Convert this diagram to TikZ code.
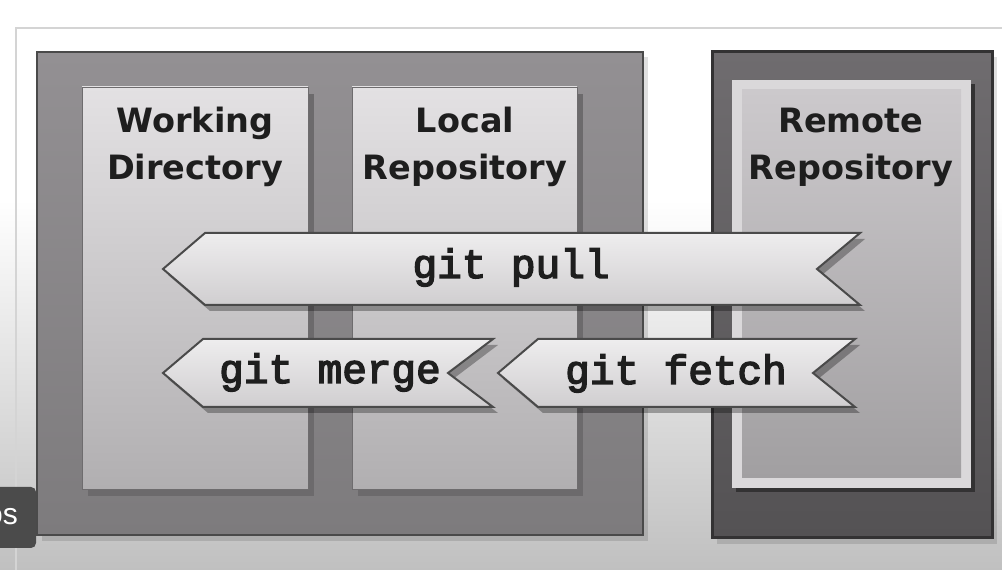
\documentclass[tikz,border=0pt]{standalone}
\usepackage{fontspec}
\newfontfamily\headfont{DejaVu Sans}
\newfontfamily\codefont{Liberation Mono}[FakeBold=3.5]
\newfontfamily\uifont{Liberation Sans}
\definecolor{bgbot}{HTML}{C0C0C0}
\definecolor{panelline}{HTML}{D4D4D4}
\definecolor{lgtop}{HTML}{939093}
\definecolor{lgbot}{HTML}{7D7B7D}
\definecolor{bordark}{HTML}{4A4A4A}
\definecolor{intop}{HTML}{E3E1E3}
\definecolor{inbot}{HTML}{B1AFB1}
\definecolor{inline}{HTML}{6E6C6E}
\definecolor{innershadow}{HTML}{6C6A6C}
\definecolor{rtop}{HTML}{6F6C6F}
\definecolor{rbot}{HTML}{545254}
\definecolor{rborder}{HTML}{333233}
\definecolor{rband}{HTML}{DAD8DA}
\definecolor{ritop}{HTML}{CCC9CC}
\definecolor{ribot}{HTML}{A19FA1}
\definecolor{artop}{HTML}{EEEDEE}
\definecolor{arbot}{HTML}{D0CED0}
\definecolor{txt}{HTML}{1E1E1E}
\definecolor{osbg}{HTML}{4B4B4B}
\tikzset{
  outershadow/.style={fill=black, opacity=0.12},
  outerleft/.style={top color=lgtop, bottom color=lgbot, draw=bordark, line width=2.5pt},
  outerright/.style={top color=rtop, bottom color=rbot, draw=rborder, line width=3pt},
  innerbox/.style={top color=intop, bottom color=inbot, draw=inline, line width=0.8pt},
  innershade/.style={fill=innershadow},
  arrowshape/.style={top color=artop, bottom color=arbot, draw=bordark, line width=2pt, line join=miter},
  arrowshadow/.style={fill=black, opacity=0.3},
  headtext/.style={font=\headfont\bfseries\fontsize{33.5}{47}\selectfont, text=txt, align=center, inner sep=0pt},
  codetext/.style={font=\codefont\fontsize{41}{41}\selectfont, text=txt, inner sep=0pt, anchor=base},
}
\begin{document}
\begin{tikzpicture}[x=1pt,y=1pt]
\useasboundingbox (0,0) rectangle (1002,570);
\clip (0,0) rectangle (1002,570);
% background
\fill[white] (0,369) rectangle (1002,570);
\shade[top color=white, bottom color=bgbot] (0,0) rectangle (1002,370);
\draw[panelline, line width=1.5pt] (16,0) -- (16,542) -- (1002,542);
% left container
\fill[outershadow] (42,29) rectangle (648,513);
\shadedraw[outerleft] (37,35) rectangle (643,518);
% working directory
\fill[innershade] (88,74) rectangle (314,476);
\shadedraw[innerbox] (82,81) rectangle (308,483);
% local repository
\fill[innershade] (358,74) rectangle (583,476);
\shadedraw[innerbox] (352,81) rectangle (577,483);
% remote container
\fill[outershadow] (717,26) rectangle (997,513);
\shadedraw[outerright] (712,32) rectangle (992,518);
\fill[fill=rborder] (736,78) rectangle (975,486);
\fill[rband] (732,82) rectangle (971,490);
\shade[top color=ritop, bottom color=ribot] (742,92) rectangle (961,480);
% headings (base anchor = baseline of the last line)
\node[headtext, anchor=base] (wd) at (195,390) {Working\\Directory};
\node[headtext, anchor=base] (lr) at (465,390) {Local\\Repository};
\node[headtext, anchor=base] (rr) at (851,390) {Remote\\Repository};
% arrow shadows
\fill[arrowshadow, shift={(5,-6)}] (163,301) -- (205,337) -- (860,337) -- (817,301) -- (860,265) -- (205,265) -- cycle;
\fill[arrowshadow, shift={(5,-6)}] (163,197) -- (203,231) -- (493,231) -- (448,197) -- (493,163) -- (203,163) -- cycle;
\fill[arrowshadow, shift={(5,-6)}] (498,197) -- (538,231) -- (855,231) -- (813,197) -- (855,163) -- (538,163) -- cycle;
% arrows
\shadedraw[arrowshape] (163,301) -- (205,337) -- (860,337) -- (817,301) -- (860,265) -- (205,265) -- cycle;
\shadedraw[arrowshape] (163,197) -- (203,231) -- (493,231) -- (448,197) -- (493,163) -- (203,163) -- cycle;
\shadedraw[arrowshape] (498,197) -- (538,231) -- (855,231) -- (813,197) -- (855,163) -- (538,163) -- cycle;
\node[codetext] (pull) at (511,292) {git pull};
\node[codetext] (merge) at (330,187) {git merge};
\node[codetext] (fetch) at (676,186) {git fetch};
% overlay tab
\fill[osbg, rounded corners=5pt] (-10,22) rectangle (36,83);
\node[anchor=base east, text=white, inner sep=0pt, font=\uifont\fontsize{30}{30}\selectfont] (os) at (18,45) {os};
\end{tikzpicture}
\end{document}
